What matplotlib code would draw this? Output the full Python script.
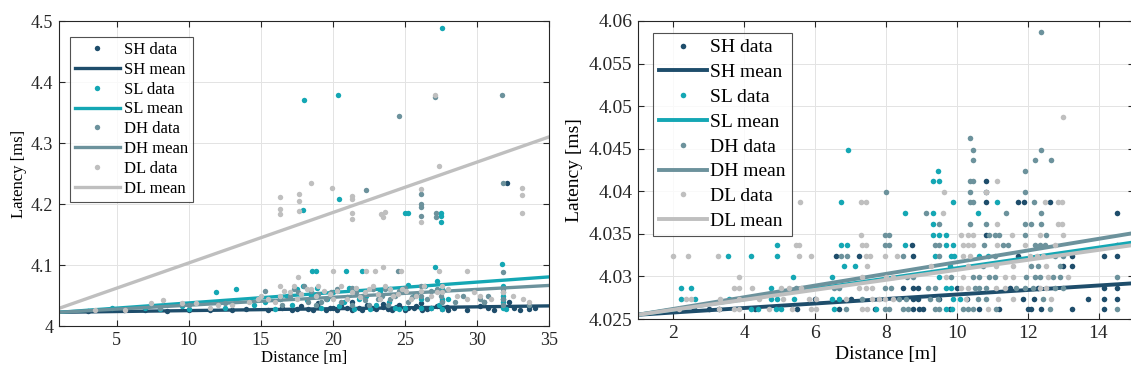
import numpy as np
import matplotlib
matplotlib.use("Agg")
import matplotlib.pyplot as plt
from matplotlib.ticker import FuncFormatter

plt.rcParams['font.family'] = ['Liberation Serif', 'DejaVu Serif']

# colours of the four configurations
c_sh = "#1e4d6b"
c_sl = "#14a7b4"
c_dh = "#6c929c"
c_dl = "#bfbfbf"

# ---------------- left panel data ----------------
sh_l_x = [3.0, 5.5, 7.0, 8.5, 10.0, 11.5, 13.0, 14.0, 15.5, 16.5, 17.2, 17.8, 18.3, 19.0, 19.5,
          20.0, 20.6, 21.3, 21.8, 22.4, 23.0, 23.5, 24.1, 24.6, 25.2, 25.8, 26.2, 26.8, 27.2, 27.6,
          28.4, 29.3, 30.5, 30.8, 31.8, 31.8, 32.1, 32.2, 33.6, 33.6, 19.0, 21.3, 23.5, 26.1, 27.6,
          17.5, 18.6, 19.8, 20.3, 21.0, 22.0, 22.7, 23.8, 24.4, 25.0, 25.6, 26.5, 27.9, 28.0, 30.2,
          31.2, 32.6, 33.0, 34.0]
sh_l_y = [4.025, 4.026, 4.027, 4.025, 4.026, 4.027, 4.026, 4.028, 4.027, 4.030, 4.026, 4.032, 4.028, 4.031, 4.026,
          4.029, 4.033, 4.027, 4.030, 4.034, 4.028, 4.031, 4.026, 4.035, 4.029, 4.032, 4.027, 4.030, 4.033, 4.028,
          4.030, 4.026, 4.040, 4.029, 4.045, 4.032, 4.234, 4.040, 4.028, 4.033, 4.037, 4.039, 4.036, 4.038, 4.041,
          4.028, 4.027, 4.030, 4.026, 4.029, 4.027, 4.030, 4.028, 4.031, 4.027, 4.030, 4.028, 4.031, 4.027, 4.032,
          4.027, 4.030, 4.027, 4.029]

sl_l_x = [27.56, 18.0, 20.38, 17.93, 20.43, 25.0, 25.25, 27.5, 27.5, 27.5, 31.77, 27.1, 18.56, 18.81, 20.93, 22.0,
          4.7, 7.0, 8.0, 9.5, 11.9, 13.3, 14.5, 15.3, 16.3, 17.5, 17.9, 18.5, 19.2, 20.0, 20.8, 21.5, 22.3,
          23.0, 24.0, 24.6, 25.2, 26.1, 26.8, 27.2, 27.6, 27.6, 31.8, 31.8, 31.8, 27.6, 25.0,
          16.0, 16.8, 17.2, 18.2, 18.9, 19.6, 20.4, 21.1, 21.8, 22.6, 23.3, 23.9, 24.3, 25.6, 26.1, 26.4,
          27.4, 28.0, 31.8, 32.0, 12.5, 10.0]
sl_l_y = [4.489, 4.371, 4.379, 4.191, 4.209, 4.186, 4.186, 4.185, 4.181, 4.170, 4.102, 4.096, 4.090, 4.090, 4.090, 4.090,
          4.030, 4.030, 4.028, 4.032, 4.056, 4.061, 4.035, 4.040, 4.045, 4.060, 4.066, 4.050, 4.030, 4.055, 4.040, 4.028, 4.050,
          4.035, 4.060, 4.028, 4.068, 4.045, 4.030, 4.073, 4.060, 4.028, 4.065, 4.030, 4.050, 4.045, 4.030,
          4.028, 4.050, 4.035, 4.042, 4.062, 4.045, 4.032, 4.062, 4.045, 4.028, 4.058, 4.040, 4.030, 4.050, 4.030, 4.065,
          4.035, 4.045, 4.040, 4.028, 4.030, 4.028]

dh_l_x = [24.59, 31.77, 22.33, 26.1, 26.1, 26.1, 26.1, 27.18, 27.18, 31.8, 31.8, 24.5, 27.08,
          8.0, 10.0, 12.5, 15.3, 16.3, 17.0, 17.6, 18.0, 18.3, 19.0, 19.5, 20.3, 21.0, 21.6, 22.2, 22.8,
          23.4, 24.0, 24.6, 25.2, 25.8, 26.1, 26.5, 27.2, 27.5, 28.5, 30.2, 30.8, 31.8, 31.8, 33.6, 18.8, 21.3, 23.8,
          16.5, 17.3, 18.5, 19.2, 19.9, 20.6, 21.3, 22.0, 22.5, 23.1, 23.6, 24.3, 25.0, 25.5, 26.1, 26.8,
          27.6, 29.0, 31.8, 31.8, 30.5]
dh_l_y = [4.344, 4.379, 4.223, 4.216, 4.200, 4.195, 4.181, 4.186, 4.178, 4.234, 4.089, 4.090, 4.375,
          4.030, 4.035, 4.038, 4.058, 4.045, 4.050, 4.055, 4.066, 4.040, 4.052, 4.045, 4.060, 4.048, 4.055, 4.042, 4.060,
          4.050, 4.045, 4.058, 4.040, 4.052, 4.065, 4.045, 4.060, 4.050, 4.040, 4.045, 4.050, 4.060, 4.045, 4.035, 4.035, 4.035, 4.035,
          4.035, 4.060, 4.058, 4.040, 4.055, 4.040, 4.062, 4.050, 4.035, 4.045, 4.060, 4.050, 4.062, 4.048, 4.050, 4.058,
          4.040, 4.050, 4.035, 4.055, 4.040]

dl_l_x = [27.08, 27.38, 18.5, 19.95, 16.3, 16.3, 16.3, 17.63, 17.63, 17.63, 21.33, 21.33, 21.33, 21.33, 23.35, 23.6,
          23.5, 26.1, 26.1, 33.16, 33.16, 33.16, 20.0, 22.3, 22.9, 23.5, 24.7, 27.4, 29.3, 17.6,
          3.5, 5.6, 7.4, 8.2, 9.5, 10.5, 11.5, 13.0, 14.2, 15.5, 16.3, 16.3, 17.0, 17.5, 18.2, 18.8, 19.4, 20.0,
          20.6, 21.3, 21.9, 22.5, 23.1, 23.6, 24.2, 24.8, 25.4, 26.1, 26.8, 27.6, 27.6, 29.3, 30.2, 31.8, 33.2,
          15.0, 16.0, 16.6, 17.3, 17.8, 18.5, 19.0, 19.8, 20.3, 21.0, 21.6, 22.2, 22.8, 23.3, 24.0, 24.5,
          25.1, 25.8, 26.3, 27.2, 28.0, 28.6, 29.8, 31.0, 32.5, 33.6, 12.0, 14.8]
dl_l_y = [4.378, 4.262, 4.234, 4.227, 4.211, 4.192, 4.184, 4.216, 4.205, 4.188, 4.213, 4.208, 4.186, 4.175, 4.184, 4.187,
          4.179, 4.224, 4.170, 4.226, 4.215, 4.185, 4.090, 4.090, 4.090, 4.097, 4.090, 4.090, 4.090, 4.080,
          4.026, 4.026, 4.038, 4.043, 4.038, 4.038, 4.030, 4.035, 4.040, 4.045, 4.066, 4.050, 4.055, 4.045, 4.060, 4.050, 4.058, 4.045,
          4.065, 4.055, 4.048, 4.060, 4.052, 4.066, 4.050, 4.060, 4.045, 4.058, 4.050, 4.065, 4.055, 4.045, 4.050, 4.055, 4.045,
          4.050, 4.040, 4.058, 4.065, 4.052, 4.060, 4.065, 4.052, 4.058, 4.045, 4.062, 4.055, 4.065, 4.045, 4.060, 4.052,
          4.058, 4.050, 4.065, 4.055, 4.060, 4.050, 4.055, 4.045, 4.050, 4.040, 4.035, 4.045]

# mean (fit) lines, values at the two ends of the x range
mean_l_x = [1, 35]
sh_l_mean = [4.0225, 4.0330]
sl_l_mean = [4.0225, 4.0805]
dh_l_mean = [4.0225, 4.0665]
dl_l_mean = [4.0290, 4.3100]

# ---------------- right panel data ----------------
sh_r_x = [10.81, 10.83, 10.81, 11.73, 11.89, 12.64, 14.53, 10.81, 8.74, 14.53, 8.75, 11.73, 13.26, 14.15, 14.53,
          13.26, 8.47, 8.75, 8.9, 14.15, 14.53, 8.75, 8.9, 11.87, 12.17, 13.71, 14.15, 14.53, 8.75, 8.92, 9.04,
          10.64, 12.0, 12.1, 12.39, 13.26, 14.15, 6.58, 7.24, 2.59, 6.68, 3.0, 3.3, 4.3, 5.5, 6.0, 7.0, 7.7,
          9.8, 10.3, 11.2, 11.5, 10.0, 12.3, 9.5, 13.0]
sh_r_y = [4.0412, 4.0399, 4.0387, 4.0387, 4.0387, 4.0387, 4.0374, 4.0349, 4.0337, 4.0337, 4.0324, 4.0324, 4.0324, 4.0324, 4.0324,
          4.0312, 4.0287, 4.0287, 4.0287, 4.0287, 4.0287, 4.0274, 4.0274, 4.0274, 4.0274, 4.0274, 4.0274, 4.0274, 4.0262, 4.0262, 4.0262,
          4.0262, 4.0262, 4.0262, 4.0262, 4.0262, 4.0262, 4.0324, 4.0324, 4.0262, 4.0262, 4.0262, 4.0262, 4.0262, 4.0262, 4.0274, 4.0274, 4.0262,
          4.0262, 4.0274, 4.0262, 4.0287, 4.0287, 4.0287, 4.0274, 4.0312]

sl_r_x = [9.32, 9.49, 9.9, 11.13, 8.55, 9.32, 10.59, 9.32, 9.32, 9.49, 9.70, 8.55, 9.70, 9.89, 9.37, 9.84, 9.93,
          10.64, 10.88, 9.81, 9.49, 9.7, 9.84, 9.89, 10.08, 9.7, 9.87,
          6.72, 4.91, 6.72, 6.91, 3.53, 4.19, 4.91, 6.82, 7.13, 5.38, 6.49, 2.22, 2.5, 4.75, 2.22, 2.62, 3.58,
          4.75, 4.91, 5.41, 6.49, 6.68, 4.19, 4.38, 4.89, 5.03, 6.54, 7.71, 6.93, 9.47]
sl_r_y = [4.0412, 4.0412, 4.0387, 4.0387, 4.0374, 4.0374, 4.0374, 4.0362, 4.0349, 4.0349, 4.0349, 4.0337, 4.0337, 4.0337, 4.0324, 4.0324, 4.0324,
          4.0324, 4.0324, 4.0312, 4.0299, 4.0287, 4.0287, 4.0274, 4.0274, 4.0262, 4.0262,
          4.0387, 4.0337, 4.0337, 4.0337, 4.0324, 4.0324, 4.0324, 4.0312, 4.0312, 4.0299, 4.0299, 4.0287, 4.0287, 4.0287, 4.0274, 4.0274, 4.0274,
          4.0274, 4.0274, 4.0274, 4.0274, 4.0274, 4.0262, 4.0262, 4.0262, 4.0262, 4.0262, 4.0262, 4.0449, 4.0424]

dh_r_x = [12.38, 10.36, 10.47, 10.47, 12.38, 12.22, 12.66, 11.93, 7.99, 9.12,
          10.36, 10.47, 10.36, 11.93, 10.36, 10.47, 12.17, 11.38, 12.39, 9.49, 10.36, 10.81, 11.93, 12.1, 12.39,
          7.98, 8.08, 10.92, 11.07, 11.19, 11.93, 12.53, 7.98, 8.08, 9.37, 9.51, 10.78, 11.3, 11.44, 12.2, 12.34, 12.48,
          8.49, 9.51, 11.07, 12.76, 13.0, 10.74, 12.1, 12.29, 12.9, 8.58, 8.75, 9.84, 10.47, 10.64, 10.92, 11.07,
          11.96, 12.2, 12.34, 12.72, 12.9, 14.53, 7.98, 8.14, 9.18, 9.37, 10.5, 10.64, 10.83, 11.68, 11.92, 12.15,
          12.76, 13.0, 8.38, 8.57, 9.23, 9.46, 10.59, 10.83, 12.42, 7.98, 8.08, 8.47, 8.61, 9.37, 9.51, 10.17,
          10.31, 10.47, 11.11, 12.62, 14.53, 6.72, 6.91, 5.46, 6.54, 6.68, 7.33, 6.86]
dh_r_y = [4.0587, 4.0462, 4.0449, 4.0437, 4.0449, 4.0437, 4.0437, 4.0424, 4.0399, 4.0374,
          4.0412, 4.0412, 4.0399, 4.0399, 4.0387, 4.0387, 4.0387, 4.0374, 4.0374, 4.0362, 4.0362, 4.0362, 4.0362, 4.0362, 4.0362,
          4.0349, 4.0349, 4.0349, 4.0349, 4.0349, 4.0349, 4.0349, 4.0337, 4.0337, 4.0337, 4.0337, 4.0337, 4.0337, 4.0337, 4.0337, 4.0337, 4.0337,
          4.0324, 4.0324, 4.0324, 4.0324, 4.0324, 4.0312, 4.0312, 4.0312, 4.0312, 4.0299, 4.0299, 4.0299, 4.0299, 4.0299, 4.0299, 4.0299,
          4.0299, 4.0299, 4.0299, 4.0299, 4.0299, 4.0299, 4.0287, 4.0287, 4.0287, 4.0287, 4.0287, 4.0287, 4.0287, 4.0287, 4.0287, 4.0287,
          4.0287, 4.0287, 4.0274, 4.0274, 4.0274, 4.0274, 4.0274, 4.0274, 4.0274, 4.0262, 4.0262, 4.0262, 4.0262, 4.0262, 4.0262, 4.0262,
          4.0262, 4.0262, 4.0262, 4.0262, 4.0262, 4.0324, 4.0324, 4.0287, 4.0287, 4.0287, 4.0274, 4.0262]

dl_r_x = [11.13, 9.65, 10.83, 12.48, 12.86, 12.98, 9.62, 11.13, 12.86, 12.98, 10.12, 10.31, 10.47, 11.57, 12.34, 13.0,
          10.17, 10.31, 10.47, 11.13, 11.92, 12.76, 7.98, 8.3, 10.17, 10.36, 12.06, 12.25, 12.43, 9.27, 10.31, 11.11,
          11.58, 12.53, 8.0, 8.19, 9.7, 10.17, 11.35, 11.58, 12.58, 13.14, 10.12, 10.31, 11.11, 11.35, 12.34, 12.53,
          7.98, 8.19, 10.26, 11.16, 11.58, 12.67, 10.88,
          5.58, 7.29, 7.43, 7.29, 5.46, 5.55, 7.31, 7.43, 2.0, 2.4, 3.25, 5.55, 5.88, 7.43, 7.54, 7.47, 3.84, 7.33,
          3.72, 3.84, 4.23, 5.03, 5.27, 5.6, 7.24, 7.43, 7.61, 2.36, 2.5, 3.31, 3.86, 4.42, 5.08, 5.83, 6.02, 6.86,
          7.61, 7.8, 2.17, 3.28, 3.72, 3.86, 4.7, 5.36, 5.88, 6.02, 7.33, 7.47, 13.01]
dl_r_y = [4.0412, 4.0399, 4.0399, 4.0387, 4.0387, 4.0387, 4.0374, 4.0362, 4.0362, 4.0362, 4.0349, 4.0349, 4.0349, 4.0349, 4.0349, 4.0349,
          4.0337, 4.0337, 4.0337, 4.0337, 4.0337, 4.0337, 4.0324, 4.0324, 4.0324, 4.0324, 4.0324, 4.0324, 4.0324, 4.0312, 4.0312, 4.0312,
          4.0312, 4.0312, 4.0299, 4.0299, 4.0299, 4.0299, 4.0299, 4.0299, 4.0299, 4.0299, 4.0287, 4.0287, 4.0287, 4.0287, 4.0287, 4.0287,
          4.0274, 4.0274, 4.0274, 4.0274, 4.0274, 4.0274, 4.0262,
          4.0387, 4.0387, 4.0387, 4.0349, 4.0337, 4.0337, 4.0337, 4.0337, 4.0324, 4.0324, 4.0324, 4.0324, 4.0324, 4.0324, 4.0324, 4.0312, 4.0299, 4.0299,
          4.0287, 4.0287, 4.0287, 4.0287, 4.0287, 4.0287, 4.0287, 4.0287, 4.0287, 4.0274, 4.0274, 4.0274, 4.0274, 4.0274, 4.0274, 4.0274, 4.0274, 4.0274,
          4.0274, 4.0274, 4.0262, 4.0262, 4.0262, 4.0262, 4.0262, 4.0262, 4.0262, 4.0262, 4.0262, 4.0262, 4.0487]

mean_r_x = [1, 15]
sh_r_mean = [4.0255, 4.0292]
sl_r_mean = [4.0255, 4.0340]
dh_r_mean = [4.0255, 4.0351]
dl_r_mean = [4.0255, 4.0337]


def style_axes(ax, fs):
    ax.grid(True, color="#e3e3e3", lw=0.7)
    ax.set_axisbelow(True)
    ax.tick_params(direction="in", top=True, right=True, length=4, width=0.8,
                   labelsize=fs, colors="#262626", pad=4)
    for s in ax.spines.values():
        s.set_linewidth(0.8)
        s.set_color("#262626")
    ax.yaxis.set_major_formatter(FuncFormatter(lambda v, p: "%g" % round(v, 4)))


def draw(ax, data, means, mx, ms, lw):
    names = ["SH", "SL", "DH", "DL"]
    cols = [c_sh, c_sl, c_dh, c_dl]
    for i in range(4):
        x, y = data[i]
        ax.plot(x, y, ls="none", marker="o", ms=ms, mew=0, color=cols[i], label=names[i] + " data")
        ax.plot(mx, means[i], lw=lw, color=cols[i], label=names[i] + " mean")


fig = plt.figure(figsize=(11.31, 3.79), dpi=100)

# left panel
ax1 = fig.add_axes([0.0522, 0.1398, 0.4332, 0.8047])
draw(ax1, [(sh_l_x, sh_l_y), (sl_l_x, sl_l_y), (dh_l_x, dh_l_y), (dl_l_x, dl_l_y)],
     [sh_l_mean, sl_l_mean, dh_l_mean, dl_l_mean], mean_l_x, 3.9, 2.4)
ax1.set_xlim(1, 35)
ax1.set_ylim(4, 4.5)
ax1.set_xticks([5, 10, 15, 20, 25, 30, 35])
ax1.set_yticks([4, 4.1, 4.2, 4.3, 4.4, 4.5])
style_axes(ax1, 13)
ax1.set_xlabel("Distance [m]", fontsize=12, labelpad=1)
ax1.set_ylabel("Latency [ms]", fontsize=12, labelpad=3)
leg1 = ax1.legend(loc="upper left", bbox_to_anchor=(0.022, 0.948), fontsize=12, frameon=True,
                  fancybox=False, edgecolor="#262626", handlelength=2.7, handletextpad=0.25,
                  labelspacing=0.23, borderpad=0.3, borderaxespad=0)
leg1.get_frame().set_linewidth(0.8)

# right panel
ax2 = fig.add_axes([0.5641, 0.1583, 0.4385, 0.7863])
draw(ax2, [(sh_r_x, sh_r_y), (sl_r_x, sl_r_y), (dh_r_x, dh_r_y), (dl_r_x, dl_r_y)],
     [sh_r_mean, sl_r_mean, dh_r_mean, dl_r_mean], mean_r_x, 4.0, 2.8)
ax2.set_xlim(1, 15)
ax2.set_ylim(4.025, 4.06)
ax2.set_xticks([2, 4, 6, 8, 10, 12, 14])
ax2.set_yticks([4.025, 4.03, 4.035, 4.04, 4.045, 4.05, 4.055, 4.06])
style_axes(ax2, 14)
ax2.set_xlabel("Distance [m]", fontsize=14, labelpad=3)
ax2.set_ylabel("Latency [ms]", fontsize=14, labelpad=4)
leg2 = ax2.legend(loc="upper left", bbox_to_anchor=(0.030, 0.960), fontsize=14, frameon=True,
                  fancybox=False, edgecolor="#262626", handlelength=2.5, handletextpad=0.15,
                  labelspacing=0.37, borderpad=0.3, borderaxespad=0)
leg2.get_frame().set_linewidth(0.8)

fig.savefig("out.png", dpi=100)
